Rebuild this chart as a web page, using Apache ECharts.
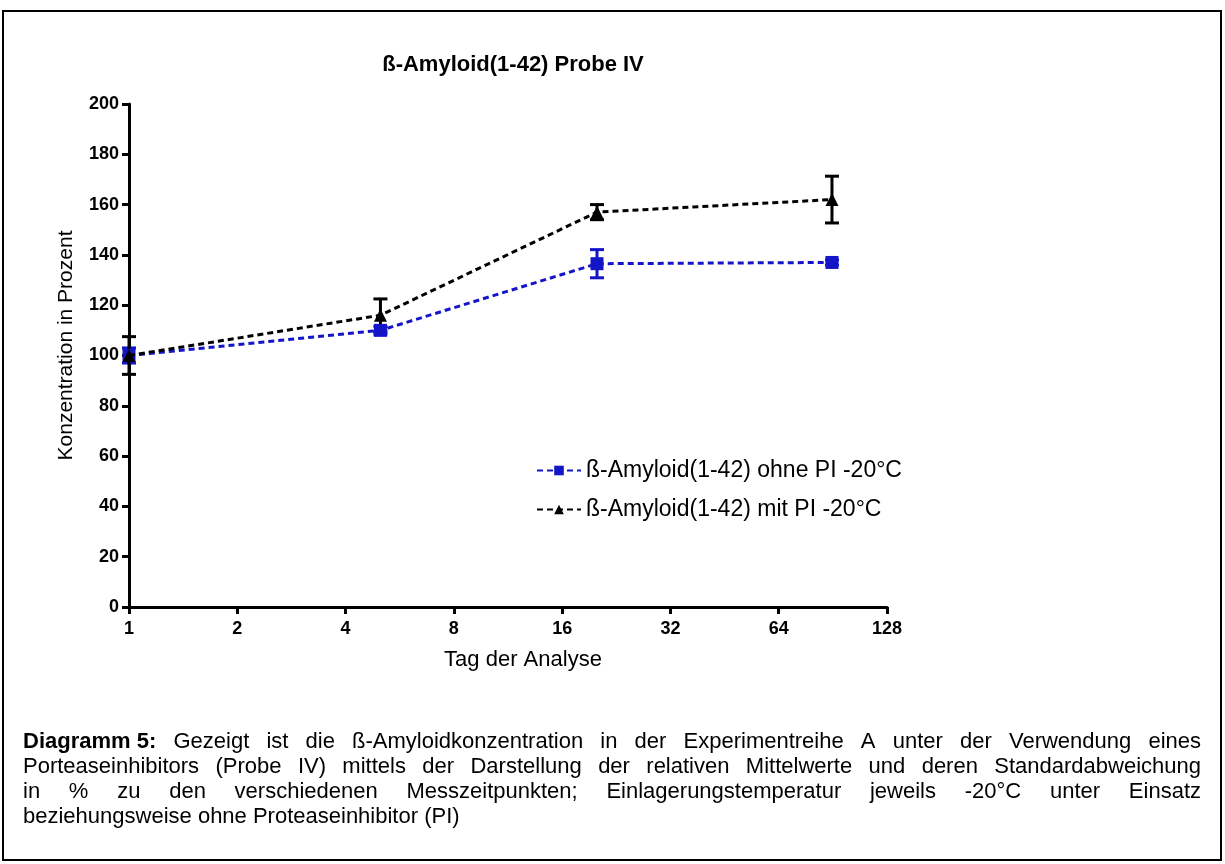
<!DOCTYPE html>
<html>
<head>
<meta charset="utf-8">
<script src="https://cdn.jsdelivr.net/npm/echarts@6/dist/echarts.min.js"></script>
<style>
  html, body { margin: 0; padding: 0; background: #fff; }
  #chart { width: 1225px; height: 864px; }
</style>
</head>
<body>
<div id="chart"></div>
<script>
// Messzeitpunkte (Tage) und relative Mittelwerte in %
const days = [1, 5, 20, 90];
const ohnePI = [100, 110, 136.5, 137];
const ohnePISD = [3, 1.5, 5.6, 1];
const mitPI = [100, 116, 157, 162];
const mitPISD = [7.5, 6.5, 3, 9.3];

const xTicks = [1, 2, 4, 8, 16, 32, 64, 128];
const yTicks = [0, 20, 40, 60, 80, 100, 120, 140, 160, 180, 200];

const chartTitle = 'ß-Amyloid(1-42) Probe IV';
const xName = 'Tag der Analyse';
const yName = 'Konzentration in Prozent';
const nameOhne = 'ß-Amyloid(1-42) ohne PI -20°C';
const nameMit = 'ß-Amyloid(1-42) mit PI -20°C';

const captionBold = 'Diagramm 5:';
const captionLines = [
  'Gezeigt ist die ß-Amyloidkonzentration in der Experimentreihe A unter der Verwendung eines',
  'Porteaseinhibitors (Probe IV) mittels der Darstellung der relativen Mittelwerte und deren Standardabweichung',
  'in % zu den verschiedenen Messzeitpunkten; Einlagerungstemperatur jeweils -20°C unter Einsatz',
  'beziehungsweise ohne Proteaseinhibitor (PI)'
];

const FONT = '"Liberation Sans", Arial, sans-serif';
const BLUE = '#1414c8';
const BLACK = '#000000';

function errorData(mean, sd) {
  return days.map((d, i) => [d, mean[i] - sd[i], mean[i] + sd[i]]);
}

function errorSeries(mean, sd, color) {
  return {
    type: 'custom',
    data: errorData(mean, sd),
    encode: { x: 0, y: [1, 2] },
    z: 3,
    silent: true,
    renderItem: function (params, api) {
      const x = api.value(0);
      const top = api.coord([x, api.value(2)]);
      const bot = api.coord([x, api.value(1)]);
      const cap = 7;
      const st = { stroke: color, lineWidth: 3 };
      return {
        type: 'group',
        children: [
          { type: 'line', shape: { x1: top[0], y1: top[1], x2: bot[0], y2: bot[1] }, style: st },
          { type: 'line', shape: { x1: top[0] - cap, y1: top[1], x2: top[0] + cap, y2: top[1] }, style: st },
          { type: 'line', shape: { x1: bot[0] - cap, y1: bot[1], x2: bot[0] + cap, y2: bot[1] }, style: st }
        ]
      };
    }
  };
}

// Blocksatz für die Bildunterschrift
const captionFontSize = 22;
const measureCtx = document.createElement('canvas').getContext('2d');
function textWidth(t, bold) {
  measureCtx.font = (bold ? 'bold ' : '') + captionFontSize + 'px ' + FONT;
  return measureCtx.measureText(t).width;
}
function buildCaption() {
  const left = 23, right = 1201, top0 = 731, lineH = 25;
  const els = [];
  captionLines.forEach((line, li) => {
    const words = line.split(' ').map(w => ({ t: w, bold: false }));
    if (li === 0) words.unshift({ t: captionBold, bold: true });
    const widths = words.map(w => textWidth(w.t, w.bold));
    const sum = widths.reduce((a, b) => a + b, 0);
    const justify = li < captionLines.length - 1;
    const gap = justify ? (right - left - sum) / (words.length - 1) : textWidth(' ', false);
    let x = left;
    words.forEach((w, i) => {
      els.push({
        type: 'text',
        left: x,
        top: top0 + li * lineH,
        style: {
          text: w.t,
          fill: '#000',
          font: (w.bold ? 'bold ' : '') + captionFontSize + 'px ' + FONT
        }
      });
      x += widths[i] + gap;
    });
  });
  return els;
}

const chart = echarts.init(document.getElementById('chart'), null, { renderer: 'canvas' });

const option = {
  backgroundColor: '#fff',
  animation: false,
  title: {
    text: chartTitle,
    left: 508,
    top: 49,
    textAlign: 'center',
    textStyle: { fontFamily: FONT, fontWeight: 'bold', fontSize: 22, color: '#000' }
  },
  grid: { left: 129, right: 338, top: 104, bottom: 257, containLabel: false },
  xAxis: {
    type: 'log',
    logBase: 2,
    min: xTicks[0],
    max: xTicks[xTicks.length - 1],
    name: xName,
    nameLocation: 'middle',
    nameGap: 42,
    nameTextStyle: { fontFamily: FONT, fontSize: 22, color: '#000', padding: [0, 0, 0, 30] },
    axisLine: { lineStyle: { color: '#000', width: 3 } },
    axisTick: { show: true, length: 7, lineStyle: { color: '#000', width: 3 } },
    axisLabel: {
      margin: 13,
      color: '#000',
      fontFamily: FONT,
      fontWeight: 'bold',
      fontSize: 18,
      formatter: v => String(Math.round(v))
    },
    splitLine: { show: false },
    minorTick: { show: false }
  },
  yAxis: {
    type: 'value',
    min: yTicks[0],
    max: yTicks[yTicks.length - 1],
    interval: yTicks[1] - yTicks[0],
    name: yName,
    nameLocation: 'middle',
    nameGap: 52,
    nameTextStyle: { fontFamily: FONT, fontSize: 21, color: '#000', padding: [0, 0, 0, 20] },
    axisLine: { show: true, lineStyle: { color: '#000', width: 3 } },
    axisTick: { show: true, length: 7, lineStyle: { color: '#000', width: 3 } },
    axisLabel: { margin: 10, color: '#000', fontFamily: FONT, fontWeight: 'bold', fontSize: 18 },
    splitLine: { show: false }
  },
  legend: {
    orient: 'vertical',
    left: 531,
    top: 454,
    itemWidth: 44,
    itemHeight: 12,
    itemGap: 16,
    data: [nameOhne, nameMit],
    lineStyle: { width: 2 },
    textStyle: { fontFamily: FONT, fontSize: 23, color: '#000' }
  },
  graphic: [
    {
      type: 'rect',
      shape: { x: 3, y: 11, width: 1218, height: 849 },
      style: { fill: 'none', stroke: '#000', lineWidth: 2 },
      z: 0
    }
  ].concat(buildCaption()),
  series: [
    errorSeries(ohnePI, ohnePISD, BLUE),
    errorSeries(mitPI, mitPISD, BLACK),
    {
      name: nameOhne,
      type: 'line',
      data: days.map((d, i) => [d, ohnePI[i]]),
      symbol: 'rect',
      symbolSize: 13,
      z: 4,
      itemStyle: { color: BLUE },
      lineStyle: { color: BLUE, width: 3, type: [6, 4] }
    },
    {
      name: nameMit,
      type: 'line',
      data: days.map((d, i) => [d, mitPI[i]]),
      symbol: 'triangle',
      symbolSize: 13,
      z: 5,
      itemStyle: { color: BLACK },
      lineStyle: { color: BLACK, width: 3, type: [6, 4] }
    }
  ]
};

chart.setOption(option);
</script>
</body>
</html>
